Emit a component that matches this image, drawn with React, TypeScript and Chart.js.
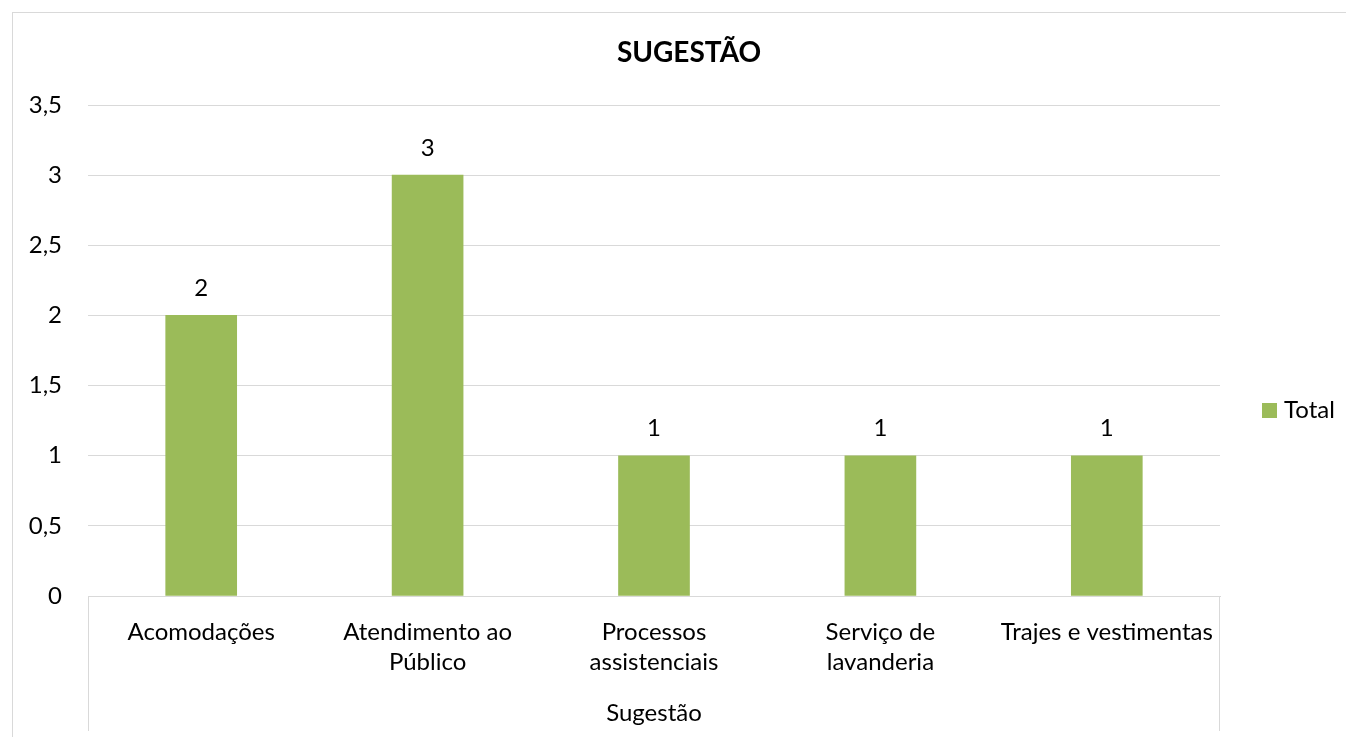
import React, { useEffect, useRef } from "react";
import { Chart, registerables } from "chart.js";

Chart.register(...registerables);

const categories: (string | string[])[] = [
  "Acomodações",
  ["Atendimento ao", "Público"],
  ["Processos", "assistenciais"],
  ["Serviço de", "lavanderia"],
  "Trajes e vestimentas",
];
const totals = [2, 3, 1, 1, 1];
const seriesName = "Total";
const chartTitle = "SUGESTÃO";
const axisTitle = "Sugestão";

const FONT = "Lato, 'Open Sans', sans-serif";
const GREEN = "#9BBB59";
const GRID = "#d9d9d9";

export default function App() {
  const ref = useRef<HTMLCanvasElement | null>(null);

  useEffect(() => {
    document.body.style.margin = "0";
    const canvas = ref.current!;
    const deco = {
      id: "deco",
      beforeDraw(chart: any) {
        const ctx = chart.ctx;
        ctx.save();
        ctx.fillStyle = "#fff";
        ctx.fillRect(0, 0, chart.width, chart.height);
        ctx.strokeStyle = GRID;
        ctx.lineWidth = 1;
        ctx.strokeRect(12.5, 12.5, chart.width + 20, chart.height + 20);
        ctx.restore();
      },
      afterDraw(chart: any) {
        const ctx = chart.ctx;
        const a = chart.chartArea;
        ctx.save();
        ctx.strokeStyle = GRID;
        ctx.lineWidth = 1;
        ctx.beginPath();
        ctx.moveTo(Math.round(a.left) + 0.5, a.bottom);
        ctx.lineTo(Math.round(a.left) + 0.5, 731);
        ctx.moveTo(Math.round(a.right) - 0.5, a.bottom);
        ctx.lineTo(Math.round(a.right) - 0.5, 731);
        ctx.stroke();
        ctx.fillStyle = "#000";
        ctx.textAlign = "center";
        ctx.textBaseline = "middle";
        ctx.font = `bold 28px ${FONT}`;
        ctx.fillText(chartTitle, 689, 53);
        ctx.font = `24px ${FONT}`;
        ctx.fillText(axisTitle, (a.left + a.right) / 2, 713);
        const meta = chart.getDatasetMeta(0);
        meta.data.forEach((bar: any, i: number) => {
          ctx.fillText(String(totals[i]), bar.x, bar.y - 27);
        });
        ctx.fillStyle = GREEN;
        ctx.fillRect(1262, 403, 15, 15);
        ctx.fillStyle = "#000";
        ctx.textAlign = "left";
        ctx.fillText(seriesName, 1284, 410);
        ctx.restore();
      },
    };

    const chart = new Chart(canvas, {
      type: "bar",
      data: {
        labels: categories,
        datasets: [
          {
            label: seriesName,
            data: totals,
            backgroundColor: GREEN,
            barThickness: 71,
          },
        ],
      },
      options: {
        animation: false,
        responsive: false,
        maintainAspectRatio: false,
        layout: { padding: { left: 0, top: 105, right: 126, bottom: 0 } },
        plugins: {
          legend: { display: false },
          title: { display: false },
          tooltip: { enabled: false },
        },
        scales: {
          x: {
            grid: { display: false },
            border: { display: true, color: GRID, width: 1 },
            ticks: {
              color: "#000",
              font: { family: FONT, size: 24, lineHeight: 1.25 },
              padding: 13,
              maxRotation: 0,
              autoSkip: false,
            },
            afterFit(scale: any) {
              scale.height = 141;
            },
          },
          y: {
            min: 0,
            max: 3.5,
            ticks: {
              stepSize: 0.5,
              color: "#000",
              font: { family: FONT, size: 24 },
              padding: 26,
              callback: (v: any) => String(v).replace(".", ","),
            },
            grid: { color: GRID, drawTicks: false },
            border: { display: false },
            afterFit(scale: any) {
              scale.width = 88;
            },
          },
        },
      },
      plugins: [deco],
    });
    return () => chart.destroy();
  }, []);

  return (
    <div style={{ position: "fixed", left: 0, top: 0, width: 1346, height: 737 }}>
      <canvas ref={ref} width={1346} height={737} style={{ width: 1346, height: 737 }} />
    </div>
  );
}
